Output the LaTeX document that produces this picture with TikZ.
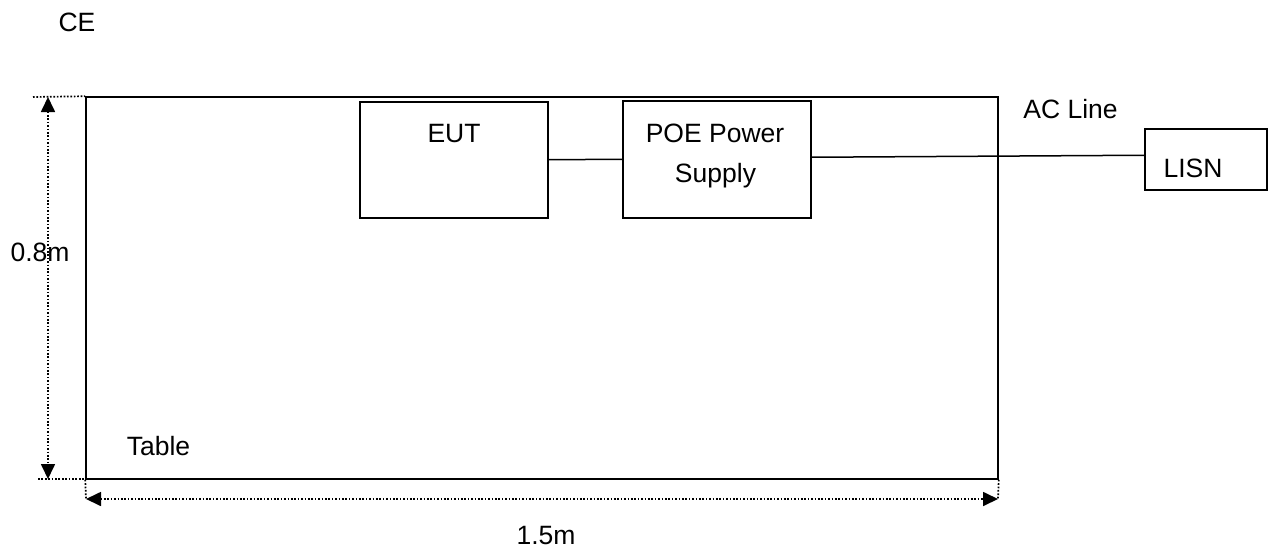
\documentclass[tikz,border=0pt]{standalone}
\usepackage{fontspec}
\setmainfont{Liberation Sans}
\usetikzlibrary{arrows.meta,calc}
\begin{document}
\begin{tikzpicture}[x=1pt,y=-1pt,
  box/.style={draw,line width=1.5pt,inner sep=0pt},
  lbl/.style={inner sep=0pt,anchor=base,font=\fontsize{26.5}{32}\selectfont},
  conn/.style={line width=1.5pt},
  dots/.style={line width=1.7pt,dash pattern=on 1.7pt off 1.7pt},
  dimarrow/.style={dots,{Triangle[length=15pt,width=14pt]}-{Triangle[length=15pt,width=14pt]}}]
\useasboundingbox (0,0) rectangle (1268,551);
% table
\node[box,minimum width=912pt,minimum height=382pt] (table) at (542,288) {};
\node[box,minimum width=188pt,minimum height=116pt,anchor=north west] (eut) at (359,101) {};
\node[lbl] (eutl) at (454,142.5) {EUT};
\node[box,minimum width=188pt,minimum height=117pt,anchor=north west] (poe) at (622,100) {};
\node[lbl] (poel1) at (715,142) {POE Power};
\node[lbl] (poel2) at (715.5,182) {Supply};
\node[box,minimum width=122pt,minimum height=61pt,anchor=north west] (lisn) at (1144,128) {};
\node[lbl] (lisnl) at (1193,177) {LISN};
\node[lbl] (acl) at (1070.5,118) {AC Line};
\node[lbl] (tablel) at (158.5,455) {Table};
\node[lbl] (ce) at (77,31.5) {CE};
\node[lbl] (h) at (40,261.5) {0.8m};
\node[lbl] (w) at (546,544) {1.5m};
% connectors
\draw[conn] (eut.east) -- (poe.west);
\draw[conn] ([yshift=2pt]poe.east) -- ([yshift=4pt]lisn.west);
% dimensions
\coordinate (ht) at (33,97);
\coordinate (vt) at (48,97);
\coordinate (vb) at (48,479);
\coordinate (hbl) at (38,479);
\coordinate (hbr) at (108,479);
\coordinate (wl) at (86,499);
\coordinate (wr) at (998,499);
\draw[dots] (ht) -- (table.north west);
\draw[dots] (hbl) -- (hbr);
\draw[dimarrow] (vt) -- (vb);
\draw[dots] (table.south west) -- (wl);
\draw[dots] (table.south east) -- (wr);
\draw[dimarrow] (wl) -- (wr);
\end{tikzpicture}
\end{document}
